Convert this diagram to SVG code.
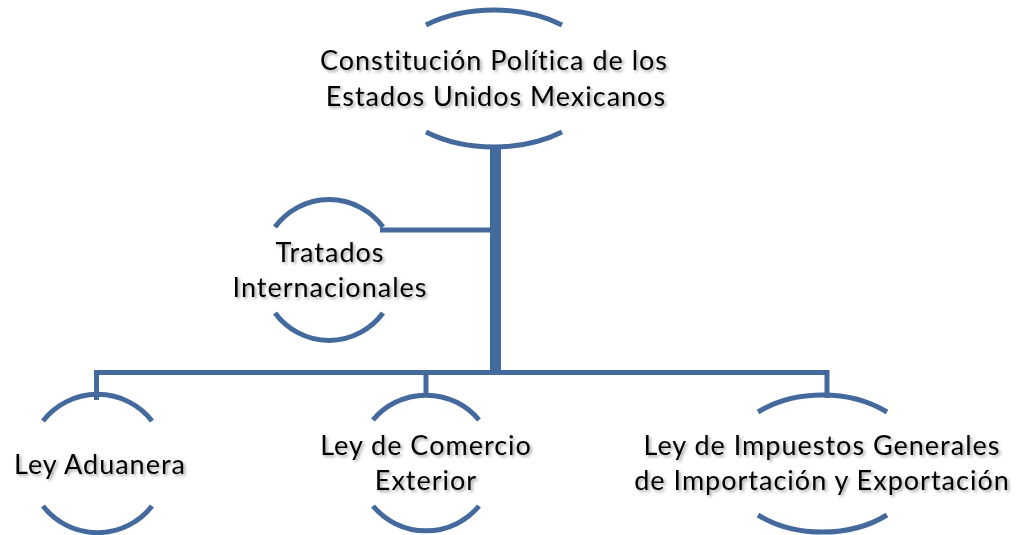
<svg xmlns="http://www.w3.org/2000/svg" width="1016" height="535" viewBox="0 0 1016 535">
<defs>
<filter id="sh" x="-10%" y="-30%" width="120%" height="160%">
<feDropShadow dx="2" dy="2" stdDeviation="1.6" flood-color="#000" flood-opacity="0.35"/>
</filter>
</defs>
<style>
.arc{fill:none;stroke:#44699c;stroke-width:5}
.ln{fill:none;stroke:#44699c;stroke-width:5}
.t{font-family:Lato,"Open Sans","Liberation Sans",sans-serif;font-size:27px;letter-spacing:1px;font-variant-ligatures:none;fill:#000;text-anchor:middle;filter:url(#sh)}
</style>
<rect width="1016" height="535" fill="#fff"/>
<g id="connectors">
<rect x="490" y="146" width="11" height="229" fill="#44699c"/>
<path class="ln" d="M380 230 H491"/>
<path class="ln" d="M94 372.5 H829.5 M96.5 370 V400 M426 370 V396 M827 370 V398"/>
</g>
<g id="n-constitucion">
<path class="arc" d="M426 25 A109 68.5 0 0 1 562 25"/>
<path class="arc" d="M426 132 A109 68.5 0 0 0 562 132"/>
<text class="t" x="494" y="70">Constitución Política de los</text>
<text class="t" x="496" y="106">Estados Unidos Mexicanos</text>
</g>
<g id="n-tratados">
<path class="arc" d="M275 227 A68 70 0 0 1 383 227"/>
<path class="arc" d="M275 313 A68 70 0 0 0 383 313"/>
<text class="t" x="330" y="262">Tratados</text>
<text class="t" x="330" y="297">Internacionales</text>
</g>
<g id="n-aduanera">
<path class="arc" d="M43 421 A69 69 0 0 1 152 421"/>
<path class="arc" d="M43 506 A69 69 0 0 0 152 506"/>
<text class="t" x="100" y="474">Ley Aduanera</text>
</g>
<g id="n-comercio">
<path class="arc" d="M373 420 A69 69 0 0 1 479 420"/>
<path class="arc" d="M373 506 A69 69 0 0 0 479 506"/>
<text class="t" x="426" y="455">Ley de Comercio</text>
<text class="t" x="426" y="490">Exterior</text>
</g>
<g id="n-impuestos">
<path class="arc" d="M758 412 A98 69 0 0 1 887 412"/>
<path class="arc" d="M758 515 A98 69 0 0 0 887 515"/>
<text class="t" x="822" y="455">Ley de Impuestos Generales</text>
<text class="t" x="822" y="490">de Importación y Exportación</text>
</g>
</svg>
